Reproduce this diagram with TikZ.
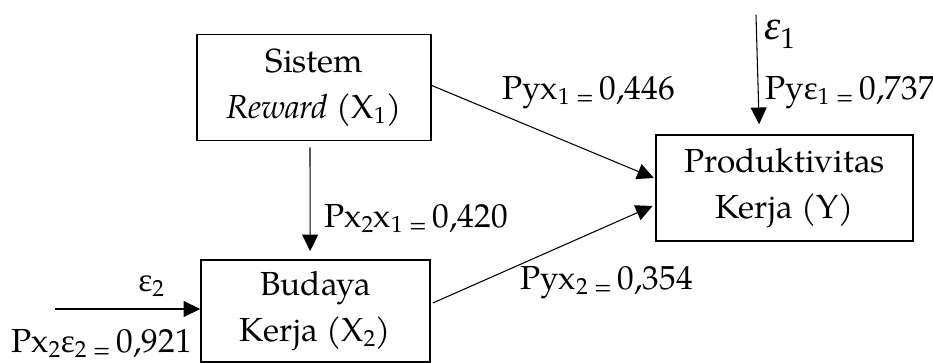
\documentclass[tikz,border=0pt]{standalone}
\usepackage{fontspec}
\setmainfont{TeX Gyre Pagella}
\newfontfamily\grk{Liberation Serif}
\usetikzlibrary{arrows.meta}
\newcommand{\mainsize}{\fontsize{25}{34.5}\selectfont}
\newcommand{\sbs}[1]{\textsubscript{#1}}
\newcommand{\eqs}{\,\textsubscript{=}\,}
\newcommand{\eps}{{\grk ε}}

\begin{document}
\begin{tikzpicture}[x=0.75pt, y=-0.75pt,
  box/.style={draw, line width=1.2pt, align=center, inner sep=0pt, font=\mainsize},
  arr/.style={-{Triangle[length=12.5pt, width=12pt]}, line width=0.8pt},
  lbl/.style={anchor=base west, inner sep=0pt, font=\mainsize}]
\useasboundingbox (0,0) rectangle (933,363);

% variables
\node[box, minimum width=175.5pt, minimum height=79.5pt] (X1) at (314,87.5)
  {Sistem\\\textit{Reward} (X\sbs{1})};
\node[box, minimum width=192.75pt, minimum height=79.5pt] (Y) at (784.5,188)
  {Produktivitas\\Kerja (Y)};
\node[box, minimum width=171.75pt, minimum height=76.5pt] (X2) at (315.5,311)
  {Budaya\\Kerja (X\sbs{2})};

% free ends of the residual arrows
\coordinate (e1s) at (756,15);
\coordinate (e2s) at (55,309);

% paths
\draw[arr] ([xshift=-3pt, yshift=-4.5pt]X1.south) -- ([xshift=-4pt, yshift=6pt]X2.north);
\draw[arr] ([yshift=1.5pt]X1.east) -- ([xshift=-1pt, yshift=7.5pt]Y.west);
\draw[arr] ([xshift=1.5pt, yshift=6pt]X2.east) -- ([xshift=-2pt, yshift=-13.5pt]Y.west);
\draw[arr] (e1s) -- ([xshift=-19pt, yshift=7.5pt]Y.north);
\draw[arr] (e2s) -- ([yshift=1.5pt]X2.west);

% coefficients
\node[lbl] (lyx1) at (502,100) {Pyx\sbs{1}\eqs0,446};
\node[lbl] (lye1) at (765,100) {Py\eps\sbs{1}\eqs0,737};
\node[lbl, font=\fontsize{31}{31}\selectfont] (e1) at (764,40) {{\grk\itshape ε}\sbs{1}};
\node[lbl] (lx2x1) at (324,228) {Px\sbs{2}x\sbs{1}\eqs0,420};
\node[lbl] (lyx2) at (520,290) {Pyx\sbs{2}\eqs0,354};
\node[lbl] (e2) at (138,292) {\eps\sbs{2}};
\node[lbl] (lx2e2) at (11,353) {Px\sbs{2}\eps\sbs{2}\eqs0,921};
\end{tikzpicture}
\end{document}
